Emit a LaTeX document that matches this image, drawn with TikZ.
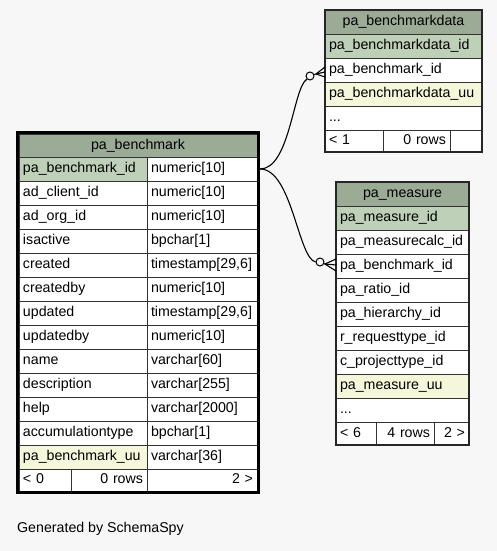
\documentclass[tikz,border=0pt]{standalone}
\usepackage{fontspec}
\setmainfont{Liberation Sans}
\usepackage{xcolor}
\usepackage{tikz}
\usetikzlibrary{positioning,calc}

\definecolor{headgreen}{HTML}{9BAB96}
\definecolor{pkgreen}{HTML}{BED1B8}
\definecolor{idxyellow}{HTML}{F4F7DA}
\definecolor{bggray}{HTML}{F7F7F7}
\newcommand{\tblfont}{\fontsize{14.2}{16}\selectfont}
\hyphenpenalty=10000
\exhyphenpenalty=10000

\begin{document}
\begin{tikzpicture}[x=1pt, y=-1pt,
		cell/.style = {draw=black!80, line width=0.8pt, fill=white, minimum height=24pt, inner xsep=4pt, inner ysep=0pt, outer sep=0pt, anchor=north west, align=left, font=\tblfont, text height=10.5pt, text depth=3pt},
		head/.style = {cell, fill=headgreen, align=center},
		pkey/.style = {cell, fill=pkgreen},
		uniq/.style = {cell, fill=idxyellow},
		foot/.style = {cell, minimum height=22pt},
		fkdot/.style = {circle, draw=black, line width=1pt, fill=bggray, inner sep=0pt, minimum size=8pt},
		rel/.style = {draw=black, line width=1.1pt}
		]
		\fill[bggray] (0,0) rectangle (497,551);
		\useasboundingbox (0,0) rectangle (497,551);
		
		%table pa_benchmark
		\node (bm) [head, text width=230pt, minimum height=23pt] at (19,134) {pa\_benchmark};
		\node (bmc1) [pkey, text width=120pt] at (bm.south west) {pa\_benchmark\_id};
		\node (bmt1) [cell, text width=102pt] at (bmc1.north east) {numeric[10]};
		\node (bmc2) [cell, text width=120pt] at (bmc1.south west) {ad\_client\_id};
		\node (bmt2) [cell, text width=102pt] at (bmc2.north east) {numeric[10]};
		\node (bmc3) [cell, text width=120pt] at (bmc2.south west) {ad\_org\_id};
		\node (bmt3) [cell, text width=102pt] at (bmc3.north east) {numeric[10]};
		\node (bmc4) [cell, text width=120pt] at (bmc3.south west) {isactive};
		\node (bmt4) [cell, text width=102pt] at (bmc4.north east) {bpchar[1]};
		\node (bmc5) [cell, text width=120pt] at (bmc4.south west) {created};
		\node (bmt5) [cell, text width=102pt] at (bmc5.north east) {timestamp[29,6]};
		\node (bmc6) [cell, text width=120pt] at (bmc5.south west) {createdby};
		\node (bmt6) [cell, text width=102pt] at (bmc6.north east) {numeric[10]};
		\node (bmc7) [cell, text width=120pt] at (bmc6.south west) {updated};
		\node (bmt7) [cell, text width=102pt] at (bmc7.north east) {timestamp[29,6]};
		\node (bmc8) [cell, text width=120pt] at (bmc7.south west) {updatedby};
		\node (bmt8) [cell, text width=102pt] at (bmc8.north east) {numeric[10]};
		\node (bmc9) [cell, text width=120pt] at (bmc8.south west) {name};
		\node (bmt9) [cell, text width=102pt] at (bmc9.north east) {varchar[60]};
		\node (bmc10) [cell, text width=120pt] at (bmc9.south west) {description};
		\node (bmt10) [cell, text width=102pt] at (bmc10.north east) {varchar[255]};
		\node (bmc11) [cell, text width=120pt] at (bmc10.south west) {help};
		\node (bmt11) [cell, text width=102pt] at (bmc11.north east) {varchar[2000]};
		\node (bmc12) [cell, text width=120pt] at (bmc11.south west) {accumulationtype};
		\node (bmt12) [cell, text width=102pt] at (bmc12.north east) {bpchar[1]};
		\node (bmc13) [uniq, text width=120pt] at (bmc12.south west) {pa\_benchmark\_uu};
		\node (bmt13) [cell, text width=102pt] at (bmc13.north east) {varchar[36]};
		\node (bmf1) [foot, text width=44pt] at (bmc13.south west) {< 0};
		\node (bmf2) [foot, text width=68pt, align=right] at (bmf1.north east) {0 rows};
		\node (bmf3) [foot, text width=102pt, align=right] at (bmf2.north east) {2 >};
		\draw[line width=3pt, black] ($(bm.north west)+(-1.5,-1.5)$) rectangle ($(bmf3.south east)+(1.5,1.5)$);
		
		%table pa_benchmarkdata
		\node (bd) [head, text width=149pt] at (325,10) {pa\_benchmarkdata};
		\node (bd1) [pkey, text width=149pt] at (bd.south west) {pa\_benchmarkdata\_id};
		\node (bd2) [cell, text width=149pt] at (bd1.south west) {pa\_benchmark\_id};
		\node (bd3) [uniq, text width=149pt] at (bd2.south west) {pa\_benchmarkdata\_uu};
		\node (bd4) [cell, text width=149pt] at (bd3.south west) {...};
		\node (bdf1) [foot, text width=50pt] at (bd4.south west) {< 1};
		\node (bdf2) [foot, text width=59pt, align=right] at (bdf1.north east) {0 rows};
		\node (bdf3) [foot, text width=24pt] at (bdf2.north east) {};
		\draw[line width=1.3pt, black!85] (bd.north west) rectangle (bdf3.south east);
		
		%table pa_measure
		\node (pm) [head, text width=125pt] at (336,182) {pa\_measure};
		\node (pm1) [pkey, text width=125pt] at (pm.south west) {pa\_measure\_id};
		\node (pm2) [cell, text width=125pt] at (pm1.south west) {pa\_measurecalc\_id};
		\node (pm3) [cell, text width=125pt] at (pm2.south west) {pa\_benchmark\_id};
		\node (pm4) [cell, text width=125pt] at (pm3.south west) {pa\_ratio\_id};
		\node (pm5) [cell, text width=125pt] at (pm4.south west) {pa\_hierarchy\_id};
		\node (pm6) [cell, text width=125pt] at (pm5.south west) {r\_requesttype\_id};
		\node (pm7) [cell, text width=125pt] at (pm6.south west) {c\_projecttype\_id};
		\node (pm8) [uniq, text width=125pt] at (pm7.south west) {pa\_measure\_uu};
		\node (pm9) [cell, text width=125pt] at (pm8.south west) {...};
		\node (pmf1) [foot, text width=32pt, minimum height=23pt] at (pm9.south west) {< 6};
		\node (pmf2) [foot, text width=50pt, minimum height=23pt, align=right] at (pmf1.north east) {4 rows};
		\node (pmf3) [foot, text width=27pt, minimum height=23pt, align=right] at (pmf2.north east) {2 >};
		\draw[line width=1.3pt, black!85] (pm.north west) rectangle (pmf3.south east);
		
		%relations from pa_benchmark_id
		\node (o1) [fkdot] at (310,76) {};
		\node (o2) [fkdot] at (320,262) {};
		\coordinate (src) at ($(bmt1.east)+(3,0)$);
		\coordinate (cr1) at (316,74);
		\coordinate (cr2) at (325,264);
		
		\draw[rel] (src) .. controls (290,169) and (293,88) .. (o1.225);
		\draw[rel] (src) .. controls (292,169) and (298,258) .. (o2.west);
		
		%crow feet
		\draw[rel] (o1) -- (cr1);
		\draw[rel] (cr1) -- ($(bd2.west)+(0,-3)$);
		\draw[rel] (cr1) -- ($(bd2.west)+(0,2)$);
		\draw[rel] (cr1) -- ($(bd2.west)+(0,7)$);
		\draw[rel] (o2) -- (cr2);
		\draw[rel] (cr2) -- ($(pm3.west)+(0,-7)$);
		\draw[rel] (cr2) -- ($(pm3.west)+(0,-1)$);
		\draw[rel] (cr2) -- ($(pm3.west)+(0,5)$);
		
		\node (gen) [anchor=west, inner sep=0pt, font=\tblfont] at (17,529) {Generated by SchemaSpy};
		
\end{tikzpicture}
\end{document}
